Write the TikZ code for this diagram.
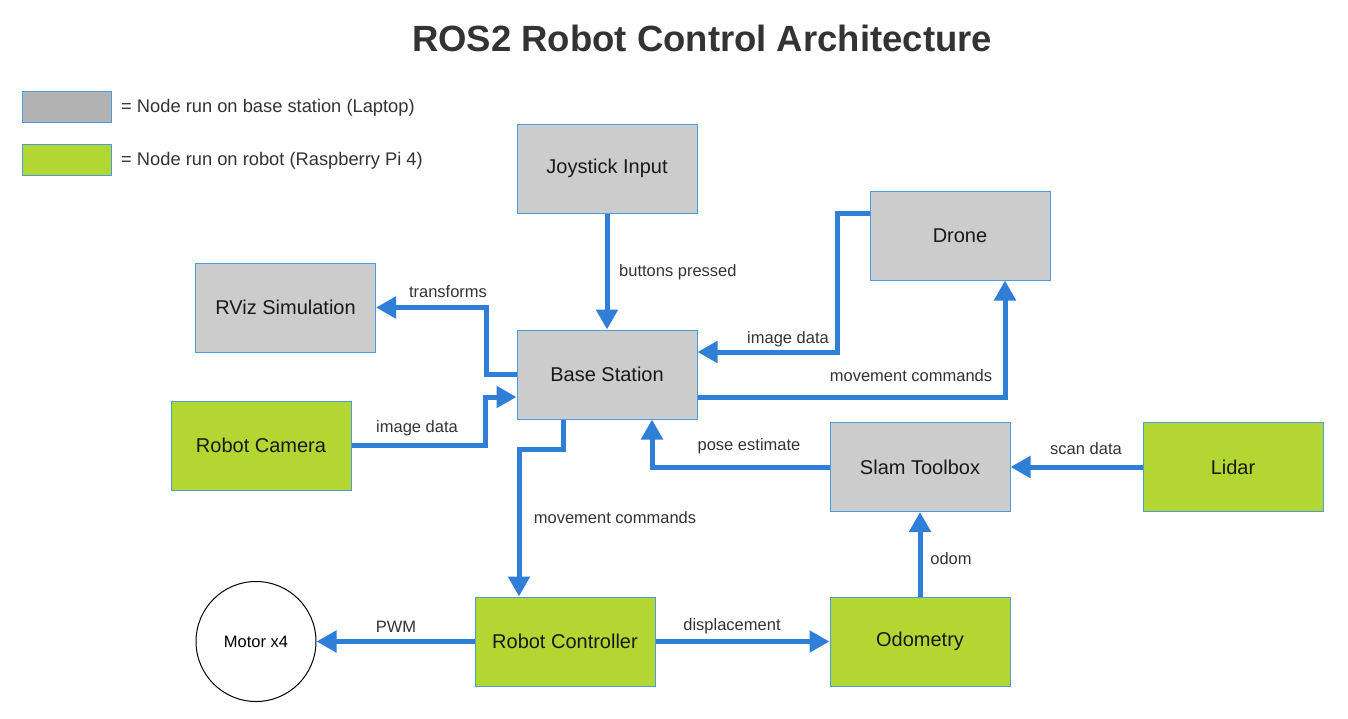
\documentclass[tikz,border=0pt]{standalone}
\usepackage{fontspec}
\setmainfont{Liberation Sans}
\usepackage{xcolor}
\usetikzlibrary{arrows.meta,positioning}

\definecolor{boxgray}{HTML}{CCCCCC}
\definecolor{leggray}{HTML}{B3B3B3}
\definecolor{robogreen}{HTML}{B2D732}
\definecolor{edgeblue}{HTML}{4A9BE0}
\definecolor{flowblue}{HTML}{2F7ED8}
\definecolor{txtgray}{HTML}{333333}

\begin{document}
\begin{tikzpicture}[x=1pt,y=-1pt,
    basenode/.style={rectangle,draw=edgeblue,line width=1pt,fill=boxgray,minimum width=180pt,minimum height=89pt,inner sep=0pt,font=\fontsize{20}{24}\selectfont,text=black!90},
    robotnode/.style={basenode,fill=robogreen},
    flow/.style={draw=flowblue,line width=5pt,-{Triangle[length=20pt,width=21pt]}},
    lbl/.style={text=txtgray,font=\fontsize{16.5}{20}\selectfont,inner sep=0pt}]
    \useasboundingbox (0,0) rectangle (1348,718);

    % Title
    \node[text=txtgray,font=\fontsize{36.5}{42}\selectfont\bfseries] (title) at (702,38) {ROS2 Robot Control Architecture};

    % Legend
    \node[rectangle,draw=edgeblue,line width=1pt,fill=leggray,minimum width=89pt,minimum height=31pt] (leggray) at (66.5,106.5) {};
    \node[rectangle,draw=edgeblue,line width=1pt,fill=robogreen,minimum width=89pt,minimum height=31pt] (leggreen) at (66.5,159.5) {};
    \node[lbl,font=\fontsize{18.3}{22}\selectfont,anchor=west] (legtxt1) at (121,107.5) {= Node run on base station (Laptop)};
    \node[lbl,font=\fontsize{18.3}{22}\selectfont,anchor=west] (legtxt2) at (121,160.5) {= Node run on robot (Raspberry Pi 4)};

    % Nodes
    \node[basenode] (joy) at (607,168.5) {Joystick Input};
    \node[basenode] (drone) at (960,235.5) {Drone};
    \node[basenode] (rviz) at (285.5,307.5) {RViz Simulation};
    \node[basenode] (base) at (607,374.5) {Base Station};
    \node[robotnode] (cam) at (261,445.5) {Robot Camera};
    \node[basenode] (slam) at (920,467) {Slam Toolbox};
    \node[robotnode] (lidar) at (1233,467) {Lidar};
    \node[robotnode] (ctrl) at (565,641.5) {Robot Controller};
    \node[robotnode] (odom) at (920,641.5) {Odometry};
    \node[circle,draw=black,line width=1pt,fill=white,minimum size=120pt,inner sep=0pt,font=\fontsize{16.5}{20}\selectfont] (motor) at (256,641.5) {Motor x4};

    % Arrows
    \draw[flow] (joy) -- (base);
    \draw[flow] (base.west) -- ++(-30,0) |- (rviz.east);
    \draw[flow] (cam.east) -- ++(134,0) |- ([yshift=-22.5pt]base.west);
    \draw[flow] ([yshift=22.5pt]drone.west) -- ++(-32,0) |- ([yshift=22.5pt]base.east);
    \draw[flow] ([yshift=-22.5pt]base.east) -| ([xshift=45pt]drone.south);
    \draw[flow] (slam.west) -| ([xshift=45pt]base.south);
    \draw[flow] (lidar) -- (slam);
    \draw[flow] ([xshift=-44pt]base.south) -- ++(0,30) -| ([xshift=-46pt]ctrl.north);
    \draw[flow] (odom) -- (slam);
    \draw[flow] (ctrl) -- (motor);
    \draw[flow] (ctrl) -- (odom);

    % Annotations
    \node[lbl,anchor=west] (lbuttons) at (619,272.5) {buttons pressed};
    \node[lbl] (ltrans) at (448,291.5) {transforms};
    \node[lbl] (limgcam) at (417,428.5) {image data};
    \node[lbl] (limgdrone) at (788,339.5) {image data};
    \node[lbl] (lmovdrone) at (911,375.5) {movement commands};
    \node[lbl] (lpose) at (749,446.5) {pose estimate};
    \node[lbl] (lscan) at (1086,448.5) {scan data};
    \node[lbl] (lmovctrl) at (615,517.5) {movement commands};
    \node[lbl] (lodom) at (951,558.5) {odom};
    \node[lbl] (lpwm) at (396,626.5) {PWM};
    \node[lbl] (ldisp) at (732,626.5) {displacement};
\end{tikzpicture}
\end{document}
